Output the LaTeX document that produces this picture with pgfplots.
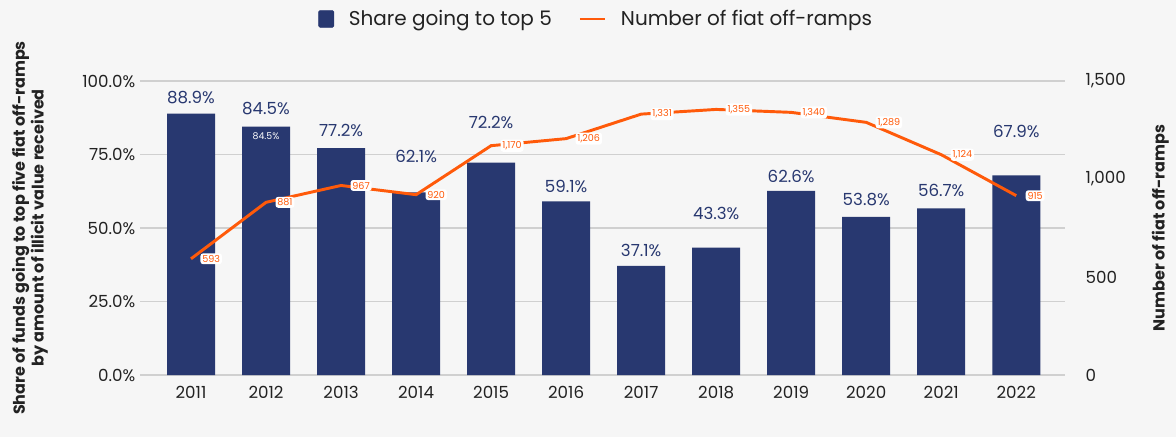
\documentclass[border=0pt]{standalone}
\usepackage{fontspec}
\setmainfont{Poppins}
\usepackage{pgfplots}
\usepackage{pgfplotstable}
\pgfplotsset{compat=1.18}

\definecolor{navy}{HTML}{283870}
\definecolor{ramp}{HTML}{FF5A0A}
\definecolor{bg}{HTML}{F6F6F6}
\definecolor{gridc}{HTML}{D0D0D0}
\definecolor{ink}{HTML}{222222}

% share going to top 5 (%), label offset above bar top (pt)
\pgfplotstableread{
x year share off
0  2011 88.9 12
1  2012 84.5 13.5
2  2013 77.2 13.5
3  2014 62.1 27
4  2015 72.2 30
5  2016 59.1 11.25
6  2017 37.1 11.25
7  2018 43.3 25.5
8  2019 62.6 11.25
9  2020 53.8 12.75
10 2021 56.7 13.5
11 2022 67.9 33
}\sharedata

% number of fiat off-ramps
\pgfplotstableread{
x year ramps
0  2011 593
1  2012 881
2  2013 967
3  2014 920
4  2015 1170
5  2016 1206
6  2017 1331
7  2018 1355
8  2019 1340
9  2020 1289
10 2021 1124
11 2022 915
}\rampdata

\pgfplotsset{
  /pgf/number format/assume math mode=true,
  chartbase/.style={
    at={(105pt,46.5pt)}, anchor=south west,
    width=693.75pt, height=220.5pt, scale only axis,
    xmin=-0.68, xmax=11.65,
    axis line style={draw=none},
    major tick length=0pt,
    clip=false,
    tick label style={font=\fontsize{12.5}{15}\selectfont, text=ink},
    label style={font=\fontsize{12}{14}\selectfont\bfseries, text=ink},
  },
}

\begin{document}
\begin{tikzpicture}
\fill[bg] (0,0) rectangle (882pt,327.75pt);

\begin{axis}[
  chartbase,
  ymin=0, ymax=100,
  ytick={0,25,50,75,100},
  yticklabel={\pgfmathprintnumber[fixed,fixed zerofill,precision=1]{\tick}\%},
  ymajorgrids,
  grid style={gridc, line width=1.1pt},
  xtick={0,...,11},
  xticklabels from table={\sharedata}{year},
  xticklabel style={yshift=-5pt},
  ylabel={Share of funds going to top five fiat off-ramps\\by amount of illicit value received},
  y label style={at={(axis description cs:-0.119,0.5)}, anchor=center, align=center},
  ybar, bar width=36pt,
  nodes near coords={\pgfmathprintnumber[fixed,fixed zerofill,precision=1]{\pgfplotspointmeta}\%},
  visualization depends on={\thisrow{off} \as \labeloff},
  every node near coord/.append style={anchor=center, yshift=\labeloff pt,
    font=\fontsize{12.5}{15}\selectfont, text=navy},
]
\addplot[fill=navy, draw=none] table[x=x, y=share] {\sharedata};
\node[text=white, font=\fontsize{7}{8}\selectfont] at (axis cs:1,84.5) [yshift=-7.5pt] {84.5\%};
\end{axis}

\begin{axis}[
  chartbase,
  ymin=0, ymax=1500,
  axis y line*=right,
  axis x line=none,
  ytick={0,500,1000,1500},
  /pgf/number format/1000 sep={,},
  yticklabel style={anchor=west, xshift=12pt},
  ylabel={Number of fiat off-ramps},
  y label style={at={(axis description cs:1.103,0.5)}, anchor=center, rotate=0},
  legend style={at={(axis description cs:0.4935,1.21)}, anchor=center,
    draw=none, fill=none, legend columns=-1,
    font=\fontsize{15}{18}\selectfont, text=ink,
    /tikz/every odd column/.append style={column sep=9pt},
    /tikz/every even column/.append style={column sep=18pt}},
]
\addlegendimage{legend image code/.code={\fill[navy, rounded corners=1pt] (0pt,-6pt) rectangle (11.5pt,6.5pt);}}
\addlegendentry{Share going to top 5}
\addplot[ramp, line width=2.2pt, mark=none,
  nodes near coords={\pgfmathprintnumber[1000 sep={,}]{\pgfplotspointmeta}},
  every node near coord/.append style={anchor=west, xshift=6pt, fill=white,
    rounded corners=2pt, inner sep=1.4pt, text=ramp, font=\fontsize{7.2}{8}\selectfont},
  legend image code/.code={\draw[ramp, line width=1.8pt] (0pt,0pt) -- (19pt,0pt);},
] table[x=x, y=ramps] {\rampdata};
\addlegendentry{Number of fiat off-ramps}
\end{axis}
\end{tikzpicture}
\end{document}
